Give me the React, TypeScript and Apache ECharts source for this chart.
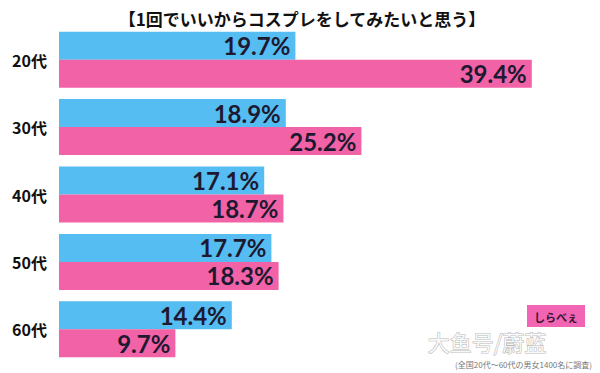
import React, { useEffect, useRef } from "react";
import * as echarts from "echarts";

const categories = ["20代", "30代", "40代", "50代", "60代"];
const blueValues = [19.7, 18.9, 17.1, 17.7, 14.4];
const pinkValues = [39.4, 25.2, 18.7, 18.3, 9.7];
const titleText = "【1回でいいからコスプレをしてみたいと思う】";
const footnote = "(全国20代～60代の男女1400名に調査)";

export default function App() {
  const ref = useRef<HTMLDivElement>(null);
  useEffect(() => {
    if (!ref.current) return;
    const chart = echarts.init(ref.current, undefined, { renderer: "svg" });
    const labelStyle = {
      show: true,
      position: "insideRight",
      distance: 5,
      formatter: (p: any) => p.value.toFixed(1) + "%",
      color: "#1d1930",
      fontSize: 24,
      lineHeight: 24,
      fontWeight: "bold",
      fontFamily: "Lato, 'Liberation Sans', sans-serif",
    };
    chart.setOption({
      animation: false,
      backgroundColor: "#ffffff",
      title: {
        text: titleText,
        left: 297,
        textAlign: "center",
        top: 5,
        textStyle: {
          fontSize: 17,
          fontWeight: "bold",
          color: "#111111",
          fontFamily: "'Noto Sans CJK JP', sans-serif",
        },
      },
      grid: { left: 59, right: 61, top: 26, bottom: 10, containLabel: false },
      xAxis: {
        type: "value",
        min: 0,
        max: 40,
        show: false,
      },
      yAxis: {
        type: "category",
        data: categories,
        inverse: true,
        axisLine: { show: false },
        axisTick: { show: false },
        axisLabel: {
          margin: 12,
          fontSize: 16,
          fontWeight: "bold",
          color: "#111111",
          fontFamily: "'Noto Sans CJK JP', sans-serif",
        },
      },
      series: [
        {
          type: "bar",
          data: blueValues,
          barWidth: 28,
          barGap: "0%",
          itemStyle: { color: "#55bdf2" },
          label: labelStyle,
        },
        {
          type: "bar",
          data: pinkValues,
          barWidth: 28,
          barGap: "0%",
          itemStyle: { color: "#f262a6" },
          label: labelStyle,
        },
      ],
      graphic: [
        {
          type: "rect",
          shape: { x: 527, y: 305, width: 58, height: 22 },
          style: { fill: "#f264b4" },
        },
        {
          type: "text",
          x: 556,
          y: 317,
          style: {
            text: "しらべぇ",
            fill: "#3a1530",
            fontSize: 11,
            fontWeight: "bold",
            align: "center",
            verticalAlign: "middle",
            fontFamily: "'Noto Sans CJK JP', sans-serif",
          },
        },
        {
          type: "text",
          x: 487,
          y: 341,
          style: {
            text: "大鱼号/蔚蓝",
            fill: "rgba(255,255,255,0.85)",
            stroke: "rgba(150,150,150,0.7)",
            lineWidth: 1,
            fontSize: 22,
            align: "center",
            verticalAlign: "middle",
            fontFamily: "'Noto Sans CJK SC', sans-serif",
          },
        },
        {
          type: "text",
          x: 592,
          y: 364,
          style: {
            text: footnote,
            fill: "#777777",
            fontSize: 8,
            align: "right",
            verticalAlign: "middle",
            fontFamily: "'Noto Sans CJK JP', sans-serif",
          },
        },
      ],
    });
    return () => chart.dispose();
  }, []);
  return <div ref={ref} style={{ width: 600, height: 373, position: "absolute", left: 0, top: 0 }} />;
}
